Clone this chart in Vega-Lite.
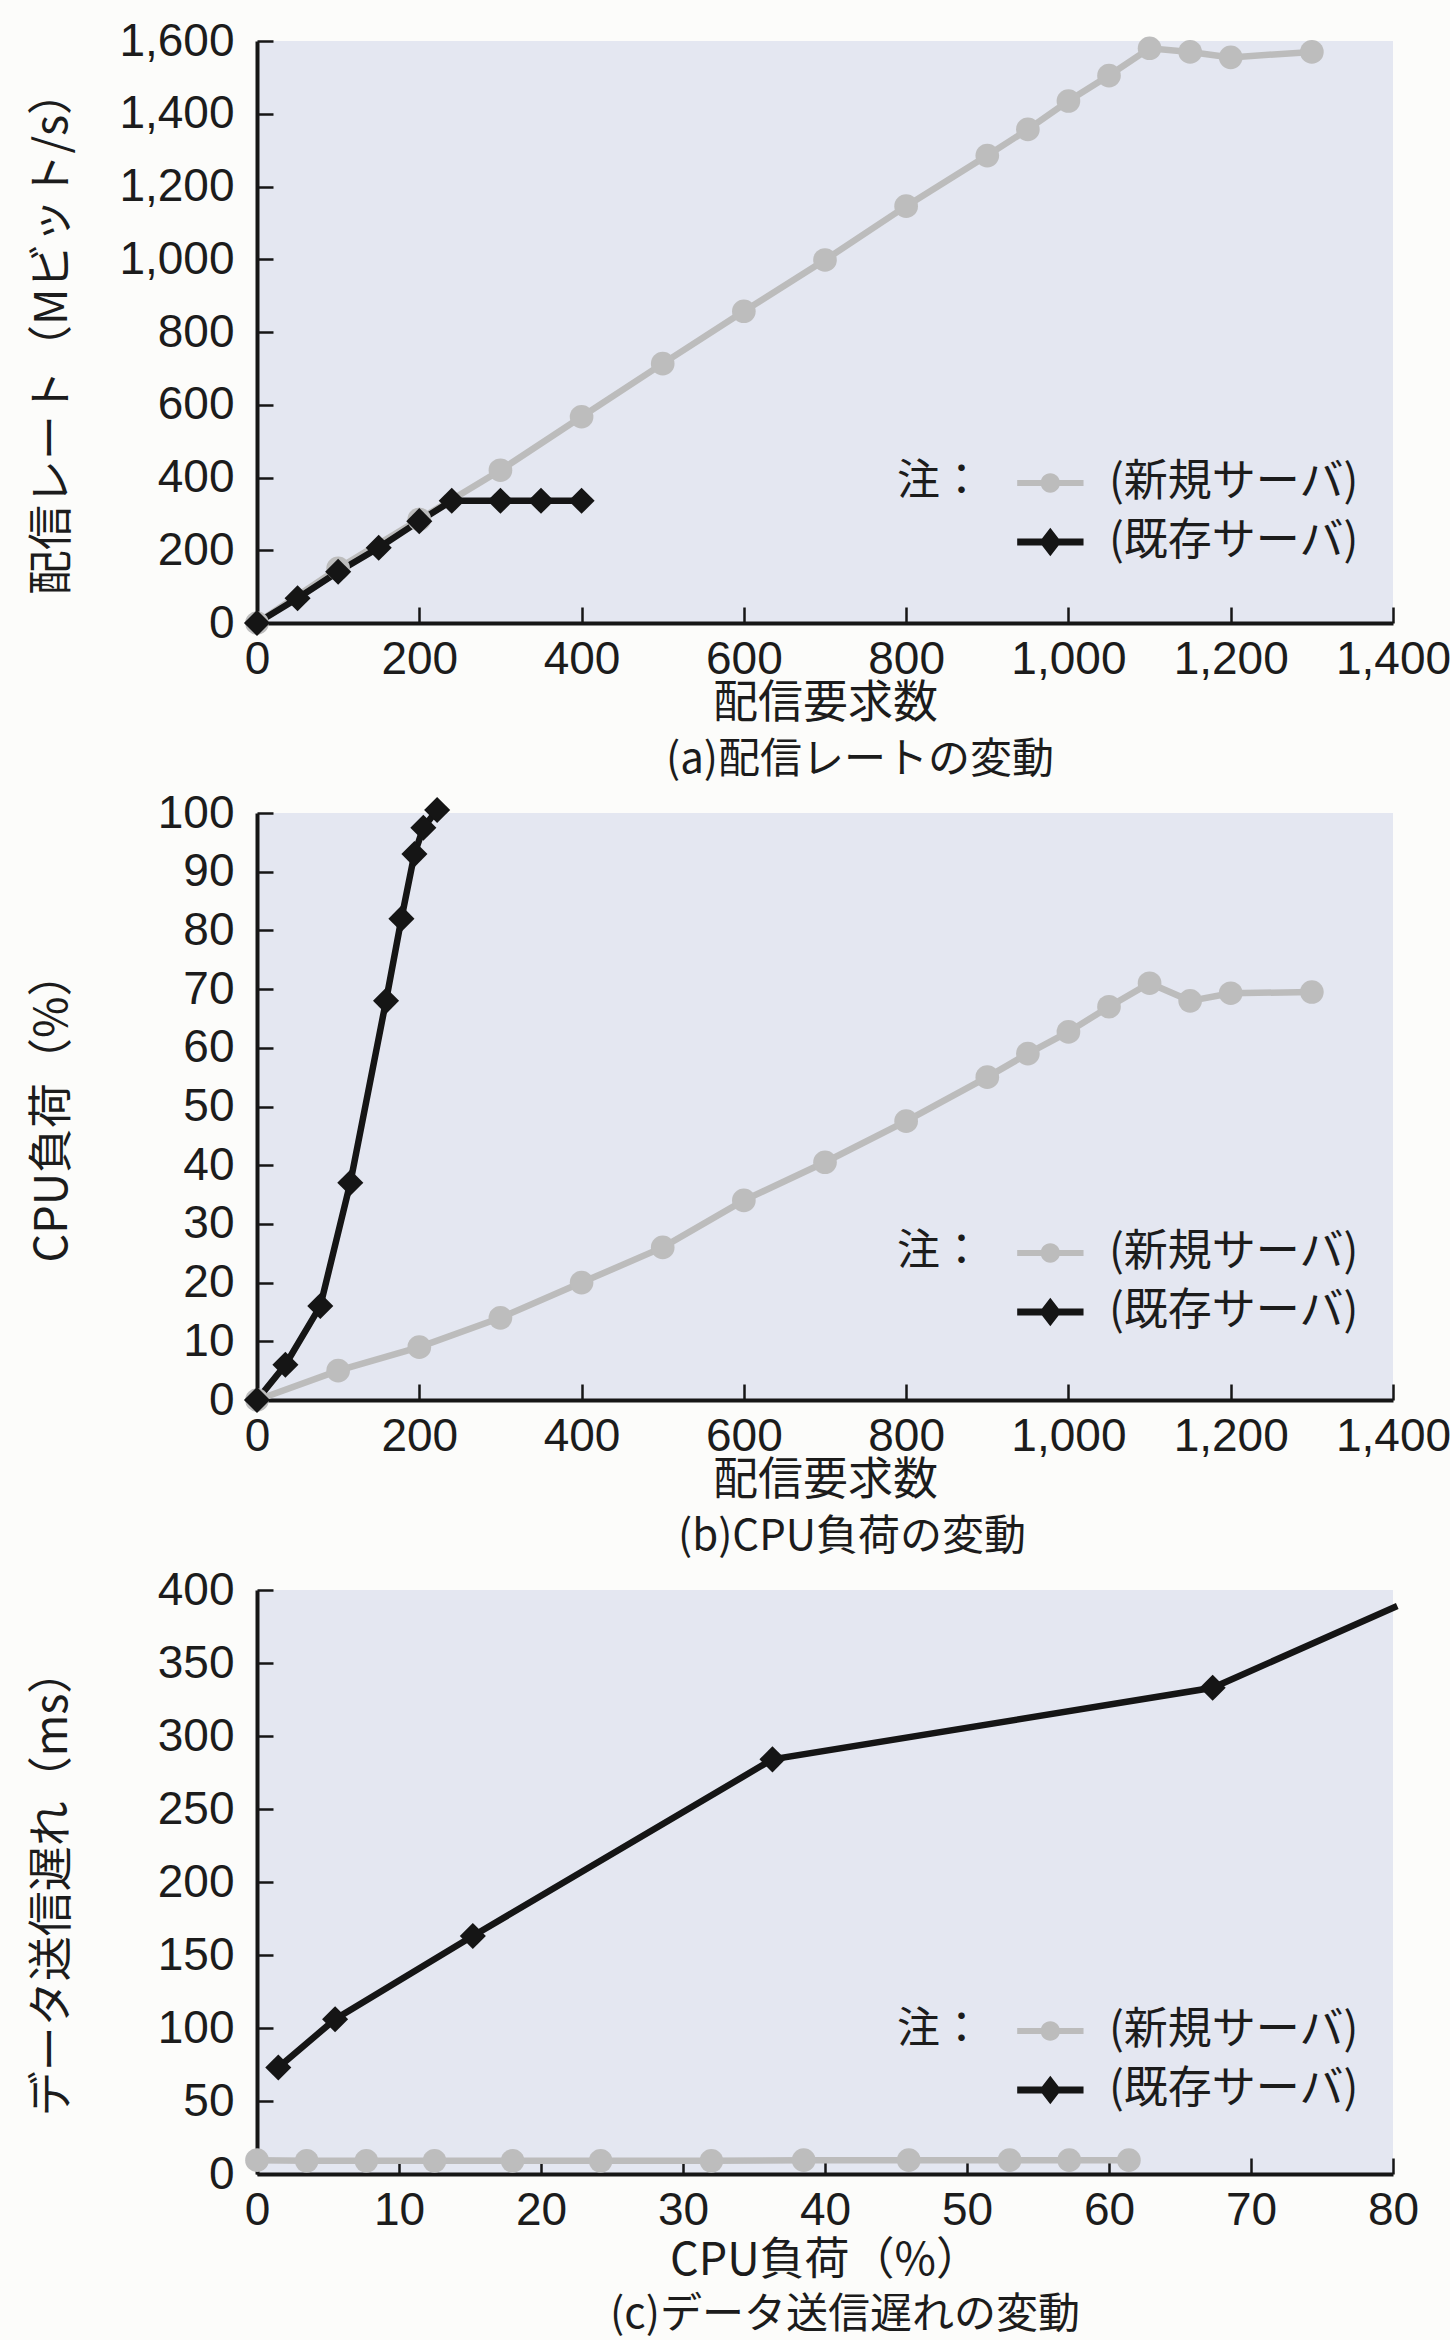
{
  "$schema": "https://vega.github.io/schema/vega-lite/v6.json",
  "background": "#fcfcfa",
  "padding": {"left": 29, "top": 18, "right": 2, "bottom": 6},
  "spacing": 190,
  "bounds": "flush",
  "resolve": {"scale": {"color": "independent"}, "legend": {"color": "independent"}},
  "datasets": {
    "a": [
      {"s": "(新規サーバ)", "x": 0, "y": 0},
      {"s": "(新規サーバ)", "x": 100, "y": 150},
      {"s": "(新規サーバ)", "x": 200, "y": 285},
      {"s": "(新規サーバ)", "x": 300, "y": 420},
      {"s": "(新規サーバ)", "x": 400, "y": 567},
      {"s": "(新規サーバ)", "x": 500, "y": 713},
      {"s": "(新規サーバ)", "x": 600, "y": 857},
      {"s": "(新規サーバ)", "x": 700, "y": 998},
      {"s": "(新規サーバ)", "x": 800, "y": 1146},
      {"s": "(新規サーバ)", "x": 900, "y": 1285},
      {"s": "(新規サーバ)", "x": 950, "y": 1357},
      {"s": "(新規サーバ)", "x": 1000, "y": 1435},
      {"s": "(新規サーバ)", "x": 1050, "y": 1505},
      {"s": "(新規サーバ)", "x": 1100, "y": 1580},
      {"s": "(新規サーバ)", "x": 1150, "y": 1570},
      {"s": "(新規サーバ)", "x": 1200, "y": 1555},
      {"s": "(新規サーバ)", "x": 1300, "y": 1570},
      {"s": "(既存サーバ)", "x": 0, "y": 0},
      {"s": "(既存サーバ)", "x": 50, "y": 68},
      {"s": "(既存サーバ)", "x": 100, "y": 141},
      {"s": "(既存サーバ)", "x": 150, "y": 207},
      {"s": "(既存サーバ)", "x": 200, "y": 280},
      {"s": "(既存サーバ)", "x": 240, "y": 336},
      {"s": "(既存サーバ)", "x": 300, "y": 336},
      {"s": "(既存サーバ)", "x": 350, "y": 336},
      {"s": "(既存サーバ)", "x": 400, "y": 336}
    ],
    "b": [
      {"s": "(新規サーバ)", "x": 0, "y": 0},
      {"s": "(新規サーバ)", "x": 100, "y": 5},
      {"s": "(新規サーバ)", "x": 200, "y": 9},
      {"s": "(新規サーバ)", "x": 300, "y": 14},
      {"s": "(新規サーバ)", "x": 400, "y": 20},
      {"s": "(新規サーバ)", "x": 500, "y": 26},
      {"s": "(新規サーバ)", "x": 600, "y": 34},
      {"s": "(新規サーバ)", "x": 700, "y": 40.5},
      {"s": "(新規サーバ)", "x": 800, "y": 47.5},
      {"s": "(新規サーバ)", "x": 900, "y": 55},
      {"s": "(新規サーバ)", "x": 950, "y": 59},
      {"s": "(新規サーバ)", "x": 1000, "y": 62.7},
      {"s": "(新規サーバ)", "x": 1050, "y": 67},
      {"s": "(新規サーバ)", "x": 1100, "y": 71},
      {"s": "(新規サーバ)", "x": 1150, "y": 68},
      {"s": "(新規サーバ)", "x": 1200, "y": 69.3},
      {"s": "(新規サーバ)", "x": 1300, "y": 69.5},
      {"s": "(既存サーバ)", "x": 0, "y": 0},
      {"s": "(既存サーバ)", "x": 35, "y": 6},
      {"s": "(既存サーバ)", "x": 78, "y": 16},
      {"s": "(既存サーバ)", "x": 115, "y": 37},
      {"s": "(既存サーバ)", "x": 159, "y": 68},
      {"s": "(既存サーバ)", "x": 178, "y": 82},
      {"s": "(既存サーバ)", "x": 194, "y": 93},
      {"s": "(既存サーバ)", "x": 205, "y": 97.5},
      {"s": "(既存サーバ)", "x": 222, "y": 100.5}
    ],
    "c": [
      {"s": "(新規サーバ)", "x": 0, "y": 9.5},
      {"s": "(新規サーバ)", "x": 3.5, "y": 9},
      {"s": "(新規サーバ)", "x": 7.7, "y": 9},
      {"s": "(新規サーバ)", "x": 12.5, "y": 9},
      {"s": "(新規サーバ)", "x": 18, "y": 9},
      {"s": "(新規サーバ)", "x": 24.2, "y": 9},
      {"s": "(新規サーバ)", "x": 32, "y": 9},
      {"s": "(新規サーバ)", "x": 38.5, "y": 9.5},
      {"s": "(新規サーバ)", "x": 45.9, "y": 9.5},
      {"s": "(新規サーバ)", "x": 53, "y": 9.5},
      {"s": "(新規サーバ)", "x": 57.2, "y": 9.5},
      {"s": "(新規サーバ)", "x": 61.4, "y": 9.5},
      {"s": "(既存サーバ)", "x": 1.5, "y": 73},
      {"s": "(既存サーバ)", "x": 5.5, "y": 106},
      {"s": "(既存サーバ)", "x": 15.2, "y": 163},
      {"s": "(既存サーバ)", "x": 36.3, "y": 284},
      {"s": "(既存サーバ)", "x": 67.3, "y": 333},
      {"s": "(既存サーバ)", "x": 80.3, "y": 389}
    ]
  },
  "vconcat": [
    {
      "width": 1136,
      "height": 582,
      "data": {"name": "a"},
      "title": {"text": "(a)配信レートの変動", "dx": 35},
      "layer": [
        {
          "mark": {"type": "line", "strokeWidth": 6.5},
          "encoding": {
            "x": {"field": "x", "type": "quantitative", "scale": {"domain": [0, 1400], "nice": false}, "axis": {"values": [0, 200, 400, 600, 800, 1000, 1200, 1400], "title": "配信要求数"}},
            "y": {"field": "y", "type": "quantitative", "scale": {"domain": [0, 1600], "nice": false}, "axis": {"values": [0, 200, 400, 600, 800, 1000, 1200, 1400, 1600], "title": "配信レート（Mビット/s）"}},
            "color": {"field": "s", "type": "nominal", "scale": {"domain": ["(新規サーバ)", "(既存サーバ)"], "range": ["#bcbcbc", "#151515"]}, "legend": {
              "title": "注：",
              "legendX": 640, "legendY": 420,
              "encode": {"symbols": {"update": {
                "shape": {"signal": "datum.value === '(新規サーバ)' ? 'M-1.71,-0.27H4.32V0.27H-1.71Z M0.42,0A0.88,0.88 0 1,1 2.18,0A0.88,0.88 0 1,1 0.42,0Z' : 'M-1.71,-0.32H4.32V0.32H-1.71Z M1.3,-1.3L2.3,0L1.3,1.3L0.3,0Z'"},
                "fill": {"signal": "datum.value === '(新規サーバ)' ? '#bcbcbc' : '#151515'"},
                "stroke": {"value": "transparent"},
                "strokeWidth": {"value": 0},
                "opacity": {"value": 1}
              }}}
            }}
          }
        },
        {
          "transform": [{"filter": "datum.s === '(新規サーバ)'"}],
          "mark": {"type": "point", "shape": "circle", "filled": true, "opacity": 1, "strokeWidth": 0, "size": 560, "color": "#bdbdbd"},
          "encoding": {
            "x": {"field": "x", "type": "quantitative"},
            "y": {"field": "y", "type": "quantitative"}
          }
        },
        {
          "transform": [{"filter": "datum.s === '(既存サーバ)'"}],
          "mark": {"type": "point", "shape": "diamond", "filled": true, "opacity": 1, "strokeWidth": 0, "size": 680, "color": "#151515"},
          "encoding": {
            "x": {"field": "x", "type": "quantitative"},
            "y": {"field": "y", "type": "quantitative"}
          }
        }
      ]
    },
    {
      "width": 1136,
      "height": 587,
      "data": {"name": "b"},
      "title": {"text": "(b)CPU負荷の変動", "dx": 27},
      "layer": [
        {
          "mark": {"type": "line", "strokeWidth": 6.5},
          "encoding": {
            "x": {"field": "x", "type": "quantitative", "scale": {"domain": [0, 1400], "nice": false}, "axis": {"values": [0, 200, 400, 600, 800, 1000, 1200, 1400], "title": "配信要求数"}},
            "y": {"field": "y", "type": "quantitative", "scale": {"domain": [0, 100], "nice": false}, "axis": {"values": [0, 10, 20, 30, 40, 50, 60, 70, 80, 90, 100], "title": "CPU負荷（%）"}},
            "color": {"field": "s", "type": "nominal", "scale": {"domain": ["(新規サーバ)", "(既存サーバ)"], "range": ["#bcbcbc", "#151515"]}, "legend": {
              "title": "注：",
              "legendX": 640, "legendY": 418,
              "encode": {"symbols": {"update": {
                "shape": {"signal": "datum.value === '(新規サーバ)' ? 'M-1.71,-0.27H4.32V0.27H-1.71Z M0.42,0A0.88,0.88 0 1,1 2.18,0A0.88,0.88 0 1,1 0.42,0Z' : 'M-1.71,-0.32H4.32V0.32H-1.71Z M1.3,-1.3L2.3,0L1.3,1.3L0.3,0Z'"},
                "fill": {"signal": "datum.value === '(新規サーバ)' ? '#bcbcbc' : '#151515'"},
                "stroke": {"value": "transparent"},
                "strokeWidth": {"value": 0},
                "opacity": {"value": 1}
              }}}
            }}
          }
        },
        {
          "transform": [{"filter": "datum.s === '(新規サーバ)'"}],
          "mark": {"type": "point", "shape": "circle", "filled": true, "opacity": 1, "strokeWidth": 0, "size": 560, "color": "#bdbdbd"},
          "encoding": {
            "x": {"field": "x", "type": "quantitative"},
            "y": {"field": "y", "type": "quantitative"}
          }
        },
        {
          "transform": [{"filter": "datum.s === '(既存サーバ)'"}],
          "mark": {"type": "point", "shape": "diamond", "filled": true, "opacity": 1, "strokeWidth": 0, "size": 680, "color": "#151515"},
          "encoding": {
            "x": {"field": "x", "type": "quantitative"},
            "y": {"field": "y", "type": "quantitative"}
          }
        }
      ]
    },
    {
      "width": 1136,
      "height": 584,
      "data": {"name": "c"},
      "title": {"text": "(c)データ送信遅れの変動", "dx": 20, "offset": 12},
      "layer": [
        {
          "mark": {"type": "line", "strokeWidth": 6.5},
          "encoding": {
            "x": {"field": "x", "type": "quantitative", "scale": {"domain": [0, 80], "nice": false}, "axis": {"values": [0, 10, 20, 30, 40, 50, 60, 70, 80], "title": "CPU負荷（%）", "titleY": 86}},
            "y": {"field": "y", "type": "quantitative", "scale": {"domain": [0, 400], "nice": false}, "axis": {"values": [0, 50, 100, 150, 200, 250, 300, 350, 400], "title": "データ送信遅れ（ms）"}},
            "color": {"field": "s", "type": "nominal", "scale": {"domain": ["(新規サーバ)", "(既存サーバ)"], "range": ["#bcbcbc", "#151515"]}, "legend": {
              "title": "注：",
              "legendX": 640, "legendY": 419,
              "encode": {"symbols": {"update": {
                "shape": {"signal": "datum.value === '(新規サーバ)' ? 'M-1.71,-0.27H4.32V0.27H-1.71Z M0.42,0A0.88,0.88 0 1,1 2.18,0A0.88,0.88 0 1,1 0.42,0Z' : 'M-1.71,-0.32H4.32V0.32H-1.71Z M1.3,-1.3L2.3,0L1.3,1.3L0.3,0Z'"},
                "fill": {"signal": "datum.value === '(新規サーバ)' ? '#bcbcbc' : '#151515'"},
                "stroke": {"value": "transparent"},
                "strokeWidth": {"value": 0},
                "opacity": {"value": 1}
              }}}
            }}
          }
        },
        {
          "transform": [{"filter": "datum.s === '(新規サーバ)'"}],
          "mark": {"type": "point", "shape": "circle", "filled": true, "opacity": 1, "strokeWidth": 0, "size": 560, "color": "#bdbdbd"},
          "encoding": {
            "x": {"field": "x", "type": "quantitative"},
            "y": {"field": "y", "type": "quantitative"}
          }
        },
        {
          "transform": [{"filter": "datum.s === '(既存サーバ)' && datum.x < 80"}],
          "mark": {"type": "point", "shape": "diamond", "filled": true, "opacity": 1, "strokeWidth": 0, "size": 680, "color": "#151515"},
          "encoding": {
            "x": {"field": "x", "type": "quantitative"},
            "y": {"field": "y", "type": "quantitative"}
          }
        }
      ]
    }
  ],
  "config": {
    "view": {"fill": "#e4e7f1", "stroke": null},
    "title": {"orient": "bottom", "anchor": "middle", "offset": 14, "font": "Noto Sans CJK JP", "fontSize": 42, "fontWeight": "normal", "color": "#1c1c1c"},
    "axis": {
      "grid": false,
      "domainColor": "#161616",
      "domainWidth": 4,
      "tickColor": "#161616",
      "tickWidth": 2.5,
      "tickSize": -16,
      "labelFont": "Liberation Sans",
      "labelFontSize": 46,
      "labelColor": "#1c1c1c",
      "labelFlush": false,
      "labelOverlap": false,
      "titleFont": "Noto Sans CJK JP",
      "titleFontSize": 45,
      "titleFontWeight": "normal",
      "titleColor": "#1c1c1c"
    },
    "axisX": {"labelPadding": 30, "titleY": 80, "titleBaseline": "middle"},
    "axisY": {"labelPadding": 39, "titleX": -205, "titleBaseline": "middle"},
    "legend": {
      "orient": "none",
      "titleOrient": "left",
      "titleAnchor": "start",
      "titleBaseline": "top",
      "titleFont": "Noto Sans CJK JP",
      "titleFontSize": 43,
      "titleFontWeight": "normal",
      "titleColor": "#1c1c1c",
      "titlePadding": 31,
      "labelFont": "Noto Sans CJK JP",
      "labelFontSize": 44,
      "labelColor": "#1c1c1c",
      "labelOffset": 51,
      "labelLimit": 400,
      "symbolSize": 484,
      "rowPadding": 15
    }
  }
}
